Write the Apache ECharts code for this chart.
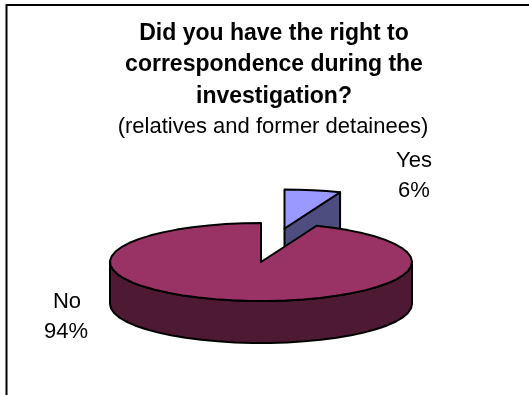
<!DOCTYPE html>
<html><head><meta charset="utf-8">
<style>html,body{margin:0;padding:0;background:#fff}#c{width:529px;height:395px}</style>
<script src="https://cdn.jsdelivr.net/npm/echarts@6/dist/echarts.min.js"></script>
</head><body><div id="c"></div>
<script>
const categories = ['Yes', 'No'];
const shares = [6, 94];
const topColors = ['#9999ff', '#993366'];
const sideColors = ['#4d4d80', '#4d1933'];
const titleLines = ['Did you have the right to', 'correspondence during the', 'investigation?'];
const subtitle = '(relatives and former detainees)';

// Projected disc geometry of the tilted pie
const cx = 261, cy = 262, rx = 151, ry = 39, depth = 42;
const explode = [[23.5, -33.5], [0, 0]];

const chart = echarts.init(document.getElementById('c'), null, {renderer: 'canvas'});

// Point on the rim; angle runs clockwise from straight up
function rim(ox, oy, a) {
  return [ox + rx * Math.sin(a), oy - ry * Math.cos(a)];
}
function arc(ox, oy, a0, a1) {
  const n = Math.max(2, Math.ceil((a1 - a0) / 0.12));
  const pts = [];
  for (let i = 0; i <= n; i++) pts.push(rim(ox, oy, a0 + (a1 - a0) * i / n));
  return pts;
}
const total = shares.reduce((s, v) => s + v, 0);
const lineStyle = {stroke: '#000', lineWidth: 2, lineJoin: 'round'};

function renderSlice(params, api) {
  const i = params.dataIndex;
  const before = shares.slice(0, i).reduce((s, v) => s + v, 0);
  const a0 = before / total * 2 * Math.PI;
  const a1 = (before + api.value(0)) / total * 2 * Math.PI;
  const ox = cx + explode[i][0], oy = cy + explode[i][1];
  const children = [];
  const poly = (points, fill) => children.push({
    type: 'polygon', shape: {points}, style: Object.assign({fill}, lineStyle)
  });
  if (i === 0) {
    // Visible cut face of the pulled-out wedge
    const e = rim(ox, oy, a1);
    poly([[ox, oy], e, [e[0], e[1] + depth], [ox, oy + depth]], sideColors[i]);
  } else {
    // Front wall: only the lower half of the rim faces the viewer
    const from = Math.max(a0, Math.PI / 2), to = Math.min(a1, Math.PI * 1.5);
    const front = arc(ox, oy, from, to);
    const wall = front.concat(front.slice().reverse().map(p => [p[0], p[1] + depth]));
    poly(wall, sideColors[i]);
  }
  poly([[ox, oy]].concat(arc(ox, oy, a0, a1)), topColors[i]);
  return {type: 'group', children};
}

const textBase = {fontFamily: '"Liberation Sans", Arial, sans-serif', fill: '#000', textAlign: 'center', textVerticalAlign: 'middle'};
const text = (t, x, y, size, weight) => ({
  type: 'text', x, y,
  style: Object.assign({}, textBase, {text: t, fontSize: size, fontWeight: weight || 'normal'})
});

chart.setOption({
  animation: false,
  backgroundColor: '#fff',
  series: [{
    type: 'custom',
    coordinateSystem: 'none',
    renderItem: renderSlice,
    data: shares.map((v, i) => ({name: categories[i], value: [v]}))
  }],
  graphic: [
    {type: 'polyline', shape: {points: [[6.5, 395], [6.5, 5], [529, 5]]}, style: {stroke: '#000', lineWidth: 2, fill: 'none'}},
    text(titleLines[0], 274, 33.5, 23, 'bold'),
    text(titleLines[1], 274, 65, 23, 'bold'),
    text(titleLines[2], 274, 97, 23, 'bold'),
    text(subtitle, 273, 126.5, 22),
    text(categories[0], 414, 160.5, 22),
    text(shares[0] + '%', 414, 190.5, 22),
    text(categories[1], 67, 301.5, 22),
    text(shares[1] + '%', 66, 331.5, 22)
  ]
});
</script></body></html>
